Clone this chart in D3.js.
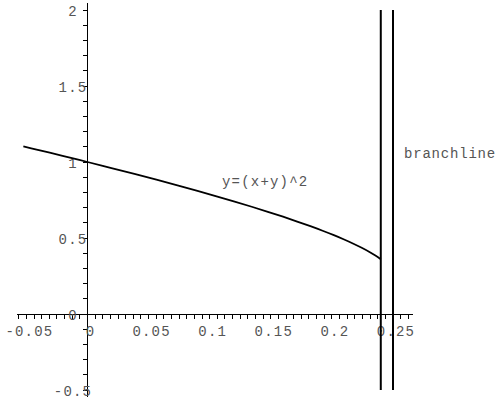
<!DOCTYPE html>
<html>
<head>
<meta charset="utf-8">
<script src="https://cdn.jsdelivr.net/npm/d3@7"></script>
<style>
html,body{margin:0;padding:0;background:#fff;}
svg text{font-family:"Liberation Mono","DejaVu Sans Mono",monospace;}
</style>
</head>
<body>
<svg id="chart" width="497" height="405"></svg>
<script>
// Curve points
const curveX = [-0.0525,-0.0416,-0.0309,-0.0204,-0.0101,0,0.0196,0.0384,0.0564,0.0736,0.09,0.1056,0.1204,0.1344,0.1476,0.16,0.1716,0.1824,0.1924,0.2016,0.21,0.2176,0.2244,0.2304,0.2356,0.24];
const curveY = [1.1025,1.0816,1.0609,1.0404,1.0201,1,0.9604,0.9216,0.8836,0.8464,0.81,0.7744,0.7396,0.7056,0.6724,0.64,0.6084,0.5776,0.5476,0.5184,0.49,0.4624,0.4356,0.4096,0.3844,0.36];
// Branch lines (vertical) at these x values, spanning y range
const branchX = [0.24, 0.25];
const branchYRange = [-0.5, 2];
// Tick labels
const xTickLabels = [-0.05, 0, 0.05, 0.1, 0.15, 0.2, 0.25];
const yTickLabels = [-0.5, 0, 0.5, 1, 1.5, 2];
const xDomain = [-0.0577, 0.266];
const yDomain = [-0.546, 2.046];
const xMinorStep = 0.00625;
const yMinorStep = 0.1;
const curveLabel = "y=(x+y)^2";
const branchLabel = "branchline";

const svg = d3.select("#chart");
const x = d3.scaleLinear().domain([0, 0.25]).range([87.5, 393]);
const y = d3.scaleLinear().domain([0, 2]).range([314, 10]);

const ink = "#000";
const textCol = "#555";

// x axis line
svg.append("line").attr("x1", x(xDomain[0])).attr("x2", x(xDomain[1]))
  .attr("y1", y(0)).attr("y2", y(0)).attr("stroke", ink).attr("stroke-width", 1).attr("shape-rendering","crispEdges");
// y axis line
svg.append("line").attr("x1", x(0)).attr("x2", x(0))
  .attr("y1", y(yDomain[0])).attr("y2", y(yDomain[1])).attr("stroke", ink).attr("stroke-width", 1).attr("shape-rendering","crispEdges");

// x minor ticks
const xt = [];
for (let i = Math.ceil(xDomain[0]/xMinorStep); i*xMinorStep <= xDomain[1]; i++) { if (i !== 0) xt.push(i*xMinorStep); }
svg.append("g").selectAll("line").data(xt).join("line")
  .attr("x1", d => x(d)).attr("x2", d => x(d))
  .attr("y1", y(0)).attr("y2", y(0) + 5)
  .attr("stroke", ink).attr("stroke-width", 1).attr("shape-rendering","crispEdges");

// y minor ticks
const yt = [];
for (let i = Math.ceil(yDomain[0]/yMinorStep); i*yMinorStep <= yDomain[1] + 1e-9; i++) { if (i !== 0) yt.push(i*yMinorStep); }
svg.append("g").selectAll("line").data(yt).join("line")
  .attr("x1", x(0) - 5).attr("x2", x(0))
  .attr("y1", d => y(d)).attr("y2", d => y(d))
  .attr("stroke", ink).attr("stroke-width", 1).attr("shape-rendering","crispEdges");

const fmt = d => String(d);

// x labels
svg.append("g").selectAll("text").data(xTickLabels).join("text")
  .attr("x", d => x(d) + 3).attr("y", y(0) + 22)
  .attr("text-anchor", "middle")
  .attr("font-size", 14).attr("letter-spacing", "1.2px")
  .attr("fill", textCol)
  .text(fmt);

// y labels
svg.append("g").selectAll("text").data(yTickLabels).join("text")
  .attr("x", 73).attr("y", d => y(d) + 6)
  .attr("text-anchor", "middle")
  .attr("font-size", 14).attr("letter-spacing", "1.2px")
  .attr("fill", textCol)
  .text(fmt);

// curve
const pts = curveX.map((v, i) => [v, curveY[i]]);
svg.append("path").datum(pts)
  .attr("d", d3.line().x(d => x(d[0])).y(d => y(d[1])).curve(d3.curveCatmullRom))
  .attr("fill", "none").attr("stroke", ink).attr("stroke-width", 1.8);

// branch lines
svg.append("g").selectAll("line").data(branchX).join("line")
  .attr("x1", d => x(d)).attr("x2", d => x(d))
  .attr("y1", y(branchYRange[0])).attr("y2", y(branchYRange[1]))
  .attr("stroke", ink).attr("stroke-width", 2);

// annotations
svg.append("text").attr("x", 222).attr("y", 186)
  .attr("font-size", 14).attr("letter-spacing", "1.2px").attr("fill", textCol).text(curveLabel);
svg.append("text").attr("x", 404).attr("y", 158)
  .attr("font-size", 14).attr("letter-spacing", "0.8px").attr("fill", textCol).text(branchLabel);
</script>
</body>
</html>
